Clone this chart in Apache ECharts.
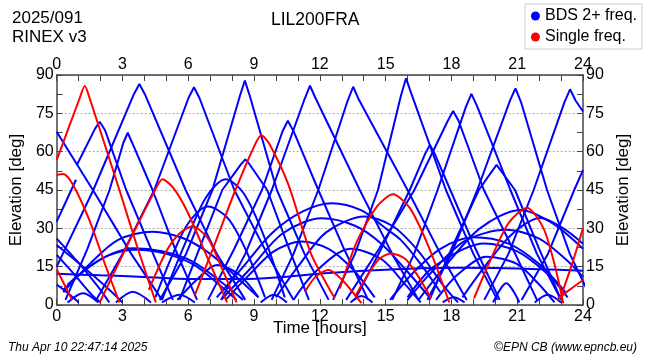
<!DOCTYPE html>
<html><head><meta charset="utf-8">
<script src="https://cdn.jsdelivr.net/npm/echarts/dist/echarts.min.js"></script>
<style>html,body{margin:0;padding:0;background:#fff}#c{width:650px;height:360px}</style>
</head><body><div id="c"></div><script>
// Time ticks and elevation ticks
const timeTicks = [0,3,6,9,12,15,18,21,24];
const elevTicks = [0,15,30,45,60,75,90];

// High MEO passes (BDS, 2+ freq.) : [hour, elevation]  (tent-shaped)
const blueHighPasses = [
  [[0,67.8],[1.65,45],[3.4,20],[4.8,2]],
  [[0,15],[1.67,45],[3.52,82.5],[3.77,86.5],[4.02,82.5],[5.88,45],[7.3,20],[8.6,2]],
  [[1.8,2],[3.0,20],[4.45,45],[6.01,81],[6.26,85.2],[6.51,81],[8.1,45],[9.6,20],[10.8,2]],
  [[4.7,2],[5.9,20],[7.1,45],[8.36,82],[8.58,87.8],[8.8,82],[10.04,45],[11.3,20],[12.4,2]],
  [[7.5,2],[8.6,20],[9.81,45],[11.3,80.5],[11.55,85.8],[11.8,81],[13.82,45],[15.3,20],[16.5,2]],
  [[9.8,2],[10.8,20],[11.93,45],[13.27,80],[13.52,85.4],[13.77,80.5],[16.0,45],[17.5,20],[18.7,2]],
  [[12.6,2],[13.6,20],[14.65,45],[15.7,82],[15.93,88.7],[16.16,83],[17.75,45],[19.0,20],[20.1,2]],
  [[15.3,2],[16.3,20],[17.37,45],[18.66,77.5],[18.91,82.6],[19.16,78],[20.69,45],[21.9,20],[23.0,2]],
  [[16.9,2],[18.0,20],[19.18,45],[20.67,80],[20.92,84.8],[21.17,79.5],[22.36,45],[23.4,20],[24.4,2]],
  [[19.5,2],[20.6,20],[21.75,45],[23.16,79.5],[23.41,84.4],[23.66,80],[24,75.7]],
  [[0,32.6],[0.45,41],[0.88,49]],
  [[0.92,54.8],[1.75,69],[1.96,71.7],[2.2,68.5],[3.17,45],[4.3,22],[5.3,2]],
  [[0.4,2],[1.4,22],[2.41,45],[3.04,63.5],[3.24,67.4],[3.44,63.5],[4.37,45],[5.4,22],[6.4,2]],
  [[6.9,2],[8.1,22],[9.36,45],[10.3,68],[10.54,72.1],[10.8,68],[11.93,45],[13.1,22],[14.2,2]],
  [[5.6,2],[6.5,22],[7.55,45],[8.4,55],[8.6,57],[8.8,55],[9.6,45],[10.6,22],[11.5,2]],
  [[13.6,2],[14.8,22],[16.1,45],[16.82,59.5],[17.02,62.6],[17.22,59.5],[17.95,45],[19.1,22],[20.2,2]],
  [[13.2,2],[14.7,22],[16.31,45],[17.83,72],[18.08,75.9],[18.33,72],[19.48,45],[20.8,22],[21.9,2]],
  [[17,2],[18.0,22],[19.25,45],[19.86,52.5],[20.06,54.8],[20.26,52.5],[20.9,45],[22.0,22],[23.0,2]],
  [[21.2,2],[22.4,20],[23.6,45],[24,52.8]]
];

// Rounded passes (IGSO / low MEO)
const blueLowPasses = [
  [[4.8,2],[5.9,25],[6.8,42],[7.7,49.2],[8.5,44],[9.4,28],[10.4,3]],
  [[4.5,3],[5.3,20],[6.0,32],[6.9,38.5],[7.8,34],[8.6,22],[9.5,3]],
  [[0.3,5],[1.5,16],[2.8,25.5],[4.37,28.7],[5.8,26],[7.0,20],[8.2,11],[9.2,3]],
  [[0.5,8],[1.5,15],[2.5,20],[3.5,22.2],[4.8,21],[6.2,17],[7.5,9],[8.5,2]],
  [[0.3,6],[1.4,14.5],[2.4,19.5],[3.6,21.6],[5,20],[6.3,15.5],[7.4,8],[8.2,2]],
  [[7.3,3],[8.45,14.4],[9.8,28],[11.2,36.5],[12.54,39.8],[13.9,37],[15.0,30],[15.7,25.4],[16.6,16],[17.5,5]],
  [[7.5,2],[8.8,14],[10.3,28],[12.08,33.9],[13.6,31],[14.8,24],[16,13],[17,3]],
  [[10,3],[11,15],[12.3,28.5],[14.04,34.6],[15.3,31],[16.5,21],[17.6,8],[18.3,1]],
  [[7.7,2],[8.8,12],[9.9,21],[11.17,24.8],[12.4,22],[13.5,14],[14.5,3]],
  [[10.8,2],[11.8,13],[13.4,22],[14.8,18],[15.9,8],[16.6,1]],
  [[16.5,2],[17.7,15],[19.3,30],[21.15,37.2],[22.6,32],[24,22]],
  [[16,2],[17,12],[18.6,25],[20.5,29.4],[22,26],[23.2,18],[24,11]],
  [[16,3],[17.2,15],[19.5,24.1],[21,21],[22.4,12],[23.3,3]],
  [[15.2,2],[16.3,13],[17.5,22],[19,26.5],[20.6,24],[22,16],[23.2,5]],
  [[17.3,2],[18.3,12],[19.6,18.9],[21,16],[22,8],[22.7,1]],
  [[18.5,3],[19.6,16],[20.8,28],[22.05,34],[23.1,30],[24,24]],
  [[5.5,2],[6.4,10],[7.3,15.7],[8.3,12],[9.2,3]],
  [[0,23.5],[1.2,15],[2.4,6],[3,1]],
  [[0,26],[1,16.5],[1.9,7],[2.4,1]],
  [[0,19.6],[0.8,12],[1.6,4],[2,1]],
  [[0,8],[0.6,4],[1.0,1]],
  [[0.5,1],[1.2,4.6],[1.9,1]],
  [[2.7,1],[3.47,5.2],[4.3,1]],
  [[4.8,1],[5.6,4],[6.3,1]],
  [[9.3,1],[9.9,4],[10.5,1]],
  [[13.4,1],[13.9,3.5],[14.4,1]],
  [[17.6,1],[18.1,3],[18.6,1]],
  [[19.9,1],[20.5,8.5],[21.1,1]],
  [[21.8,1],[22.4,4],[23,1]]
];

// Geostationary satellite
const blueGeo = [[0,12.2],[2,11.6],[4,11],[6,10.2],[8.4,10.2],[10,10.8],[12.2,12.4],[14,13.4],[16.6,14.4],[18.4,14.6],[20,14.5],[22,14],[24,13.4]];

// Single-frequency passes
const redPasses = [
  [[0,56.7],[1.05,81],[1.28,85.7],[1.5,81],[2.86,45],[3.7,22],[4.52,1]],
  [[0,50.9],[0.3,51.3],[0.75,47],[1.5,33],[2.2,16],[2.86,1]],
  [[1.96,1],[3.2,23],[4.37,43],[4.83,49.2],[5.3,46],[5.96,36.5],[6.9,18],[7.77,1]],
  [[4.2,5.9],[5.0,21],[5.6,28],[6.2,30.8],[6.9,26],[7.6,13],[8.2,1]],
  [[6.3,3.9],[7.3,26],[8.15,45],[9.0,62],[9.33,66.4],[9.7,63],[10.57,47],[11.6,20],[12.68,2.6]],
  [[11.32,5.2],[11.8,11],[12.38,13.7],[13.0,10],[13.9,0.7]],
  [[12.91,6.5],[13.7,25],[14.6,38.5],[15.33,43.3],[16.1,38],[17.0,22],[17.9,1]],
  [[13.6,3.2],[14.2,12],[14.7,18],[15.25,20.2],[15.9,18],[16.5,11],[17.07,2.6]],
  [[19.03,2.6],[19.8,18],[20.6,32],[21.45,38.1],[22.2,30],[22.7,16],[23.1,0.7]],
  [[22.96,2.6],[23.5,16],[24,30]],
  [[22.8,2],[23.4,6],[24,9.8]],
  [[0,14],[0.35,8],[0.7,2]]
];

const BLUE = '#0000ff', RED = '#ff0000';
const FONT = '"Liberation Sans", Arial, Helvetica, sans-serif';
const BLUE_NAME = 'BDS 2+ freq.', RED_NAME = 'Single freq.';

function mk(name, color, pts, smooth) {
  return {type:'line', name:name, data:pts, xAxisIndex:0, yAxisIndex:0,
    showSymbol:false, symbol:'none', smooth:smooth,
    lineStyle:{color:color, width:2}, itemStyle:{color:color},
    silent:true, animation:false, clip:true, z:2};
}
const series = [];
blueHighPasses.forEach(p => series.push(mk(BLUE_NAME, BLUE, p, false)));
blueLowPasses.forEach(p => series.push(mk(BLUE_NAME, BLUE, p, 0.3)));
series.push(mk(BLUE_NAME, BLUE, blueGeo, 0.3));
redPasses.forEach(p => series.push(mk(RED_NAME, RED, p, 0.25)));

const axisCol = '#444';
function xAx(pos, withName) {
  return {type:'value', position:pos, min:timeTicks[0], max:timeTicks[timeTicks.length-1], interval:3,
    axisLine:{show:true, onZero:false, lineStyle:{color:axisCol, width:1.5}},
    axisTick:{show:true, inside:true, length:6, lineStyle:{color:axisCol}},
    minorTick:{show:true, splitNumber:3, length:6, lineStyle:{color:axisCol}},
    axisLabel:{color:'#000', fontSize:16, fontFamily:FONT, margin:pos==='top'?2:4, showMinLabel:true, showMaxLabel:true},
    splitLine:{show:false},
    name: withName ? 'Time [hours]' : '', nameLocation:'middle', nameGap:15, nameMoveOverlap:false,
    nameTextStyle:{color:'#000', fontSize:17, fontFamily:FONT}};
}
function yAx(pos) {
  return {type:'value', position:pos, min:elevTicks[0], max:elevTicks[elevTicks.length-1], interval:15,
    axisLine:{show:true, onZero:false, lineStyle:{color:axisCol, width:1.5}},
    axisTick:{show:true, inside:true, length:6, lineStyle:{color:axisCol}},
    minorTick:{show:true, splitNumber:2, length:6, lineStyle:{color:axisCol}},
    axisLabel:{color:'#000', fontSize:16, fontFamily:FONT, margin:3, showMinLabel:true, showMaxLabel:true},
    splitLine:{show: pos==='left', lineStyle:{color:'#aaa', type:[2,2], width:1}},
    name:'Elevation [deg]', nameLocation:'middle', nameRotate:90, nameGap: pos==='left'?28:30,
    nameTextStyle:{color:'#000', fontSize:17, fontFamily:FONT}};
}

const chart = echarts.init(document.getElementById('c'), null, {renderer:'canvas'});
chart.setOption({
  animation:false,
  backgroundColor:'#fff',
  textStyle:{fontFamily:FONT},
  title:[
    {text:'LIL200FRA', left:271, top:11, padding:0, textStyle:{fontSize:17.5, fontWeight:'normal', color:'#000', fontFamily:FONT, lineHeight:18}},
    {text:'2025/091\nRINEX v3', left:12, top:9, padding:0, textStyle:{fontSize:17, fontWeight:'normal', color:'#000', fontFamily:FONT, lineHeight:19}},
    {text:'Thu Apr 10 22:47:14 2025', left:8, top:341, padding:0, textStyle:{fontSize:12, fontStyle:'italic', fontWeight:'normal', color:'#000', fontFamily:FONT, lineHeight:14}},
    {text:'\u00A9EPN CB (www.epncb.eu)', right:13, top:341, padding:0, textStyle:{fontSize:12, fontStyle:'italic', fontWeight:'normal', color:'#000', fontFamily:FONT, lineHeight:14}}
  ],
  legend:{data:[BLUE_NAME, RED_NAME], orient:'vertical', right:8, top:4, icon:'circle', itemWidth:9, itemHeight:9,
    itemGap:5, borderColor:'#ccc', borderWidth:1, padding:[4,5,4,6],
    textStyle:{fontSize:16, color:'#000', fontFamily:FONT}, selectedMode:false},
  grid:{left:53.5, right:67, top:75, bottom:55, containLabel:false},
  xAxis:[xAx('bottom', true), xAx('top', false)],
  yAxis:[yAx('left'), yAx('right')],
  series:series
});
</script></body></html>
